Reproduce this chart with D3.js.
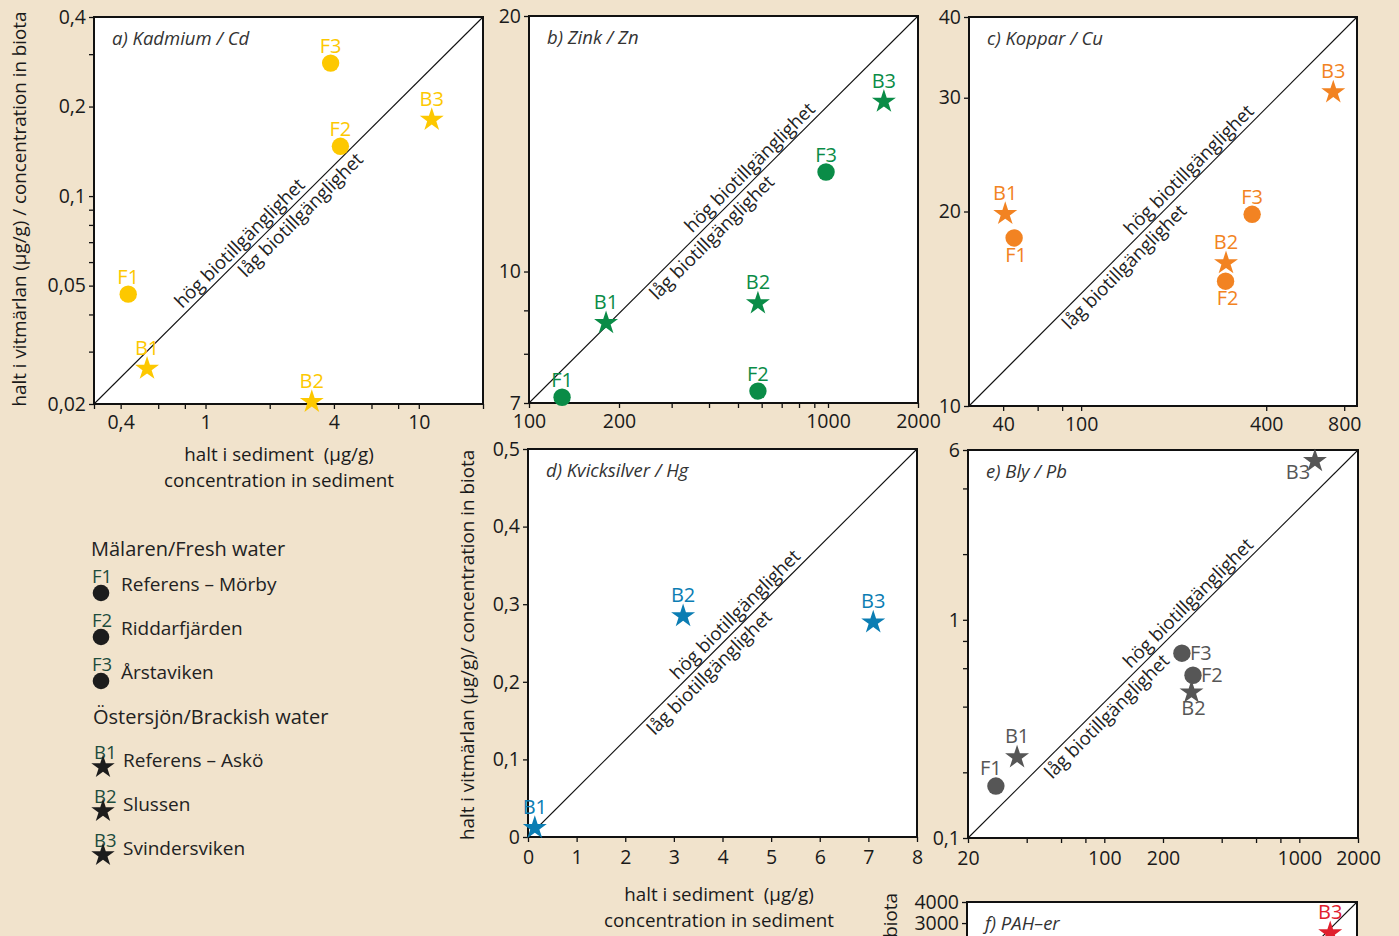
<!DOCTYPE html>
<html><head><meta charset="utf-8">
<script src="https://cdn.jsdelivr.net/npm/d3@7"></script>
<style>
html,body{margin:0;padding:0;background:#f1e3cc;}
svg{display:block;font-family:"Open Sans",sans-serif;}
</style></head><body>
<svg id="chart" width="1399" height="936"></svg>
<script>
// ---------- data ----------
const sites = ["F1","F2","F3","B1","B2","B3"];
const siteType = ["fresh","fresh","fresh","brackish","brackish","brackish"];
const siteNames = ["Referens – Mörby","Riddarfjärden","Årstaviken","Referens – Askö","Slussen","Svindersviken"];
const groupTitles = ["Mälaren/Fresh water","Östersjön/Brackish water"];

// a) Kadmium / Cd
const cdSediment = [0.434, 4.29, 3.86, 0.532, 3.15, 11.5];
const cdBiota    = [0.0468, 0.147, 0.28, 0.0265, 0.0205, 0.182];
const cdXTicks  = [0.3,0.4,0.6,0.8,1,2,4,6,8,10,20];
const cdXLabels = [0.4,1,4,10];
const cdYTicks  = [0.02,0.03,0.04,0.05,0.06,0.07,0.08,0.09,0.1,0.2,0.3,0.4];
const cdYLabels = [0.02,0.05,0.1,0.2,0.4];

// b) Zink / Zn
const znSediment = [129, 583, 985, 181, 583, 1538];
const znBiota    = [7.11, 7.23, 13.1, 8.72, 9.2, 15.9];
const znXTicks  = [100,200,300,400,500,600,700,800,900,1000,2000];
const znXLabels = [100,200,1000,2000];
const znYTicks  = [7,8,9,10,20];
const znYLabels = [7,10,20];

// c) Koppar / Cu
const cuSediment = [45.5, 295, 360, 41, 296, 726];
const cuBiota    = [18.2, 15.6, 19.8, 19.9, 16.7, 30.7];
const cuXKnots  = [27, 40, 100, 400, 800, 900];   // the printed axis is unevenly stretched
const cuXTicks  = [40,60,80,100,400,800];
const cuXLabels = [40,100,400,800];
const cuYTicks  = [10,20,30,40];
const cuYLabels = [10,20,30,40];

// d) Kvicksilver / Hg
const hgSediment = [null, null, null, 0.14, 3.19, 7.1];
const hgBiota    = [null, null, null, 0.013, 0.286, 0.278];
const hgXTicks  = [0,1,2,3,4,5,6,7,8];
const hgYTicks  = [0,0.1,0.2,0.3,0.4,0.5];

// e) Bly / Pb
const pbSediment = [27.8, 285, 250, 35.7, 280, 1203];
const pbBiota    = [0.173, 0.557, 0.703, 0.237, 0.47, 5.4];
const pbXTicks  = [20,40,60,80,100,200,400,600,800,1000,2000];
const pbXLabels = [20,100,200,1000,2000];
const pbYTicks  = [0.1,0.2,0.4,0.6,0.8,1,2,4,6];
const pbYLabels = [0.1,1,6];

// f) PAH-er (only the top of the panel is visible)
const pahSediment = [null, null, null, null, null, 2780];
const pahBiota    = [null, null, null, null, null, 2650];
const pahYTicks  = [3000,4000];
const pahYLabels = [3000,4000];

const yTitle1 = "halt i vitmärlan (µg/g) / concentration in biota";
const yTitle2 = "halt i vitmärlan (µg/g)/ concentration in biota";
const xTitle1 = "halt i sediment  (µg/g)";
const xTitle2 = "concentration in sediment";
const hogText = "hög biotillgänglighet";
const lagText = "låg biotillgänglighet";

// ---------- drawing ----------
const svg = d3.select("#chart");
const fmt = d3.formatLocale({decimal: ",", thousands: "", grouping: [3], currency: ["", ""]}).format("~g");
const FONT = 19.5;
const TFONT = 18.8;

function piecewise(box, fr){ return fr.map(f => box.x0 + f*(box.x1-box.x0)); }

const boxA = {x0:94, x1:483, y0:17, y1:404};
const boxB = {x0:529, x1:918, y0:16, y1:403};
const boxC = {x0:969, x1:1357, y0:17, y1:406};
const boxD = {x0:528, x1:917, y0:449, y1:837};
const boxE = {x0:968, x1:1358, y0:450, y1:838};
const boxF = {x0:967, x1:1357, y0:902, y1:1290};

const panels = [
  {box:boxA, title:"a) Kadmium / Cd", color:"#fdc800", pad:6,
   x:d3.scaleLog().domain([0.3,20]).range([boxA.x0,boxA.x1]),
   y:d3.scaleLog().domain([0.02,0.4]).range([boxA.y1,boxA.y0]),
   xT:cdXTicks, xL:cdXLabels, yT:cdYTicks, yL:cdYLabels, sed:cdSediment, bio:cdBiota,
   place:["above","above","above","above","above","above"], hog:0.395, lag:0.51},
  {box:boxB, title:"b) Zink / Zn", color:"#0a8c47", pad:6,
   x:d3.scaleLog().domain([100,2000]).range([boxB.x0,boxB.x1]),
   y:d3.scaleLog().domain([7,20]).range([boxB.y1,boxB.y0]),
   xT:znXTicks, xL:znXLabels, yT:znYTicks, yL:znYLabels, sed:znSediment, bio:znBiota,
   place:["above","above","above","above","above","above"], hog:0.588, lag:0.449},
  {box:boxC, title:"c) Koppar / Cu", color:"#f28322", pad:6,
   x:d3.scaleLog().domain(cuXKnots).range(piecewise(boxC,[0,0.088,0.289,0.766,0.967,1])),
   y:d3.scaleLog().domain([10,40]).range([boxC.y1,boxC.y0]),
   xT:cuXTicks, xL:cuXLabels, yT:cuYTicks, yL:cuYLabels, sed:cuSediment, bio:cuBiota,
   place:["below","below","above","above","above","above"], hog:0.587, lag:0.379},
  {box:boxD, title:"d) Kvicksilver / Hg", color:"#0b7db3", pad:8,
   x:d3.scaleLinear().domain([0,8]).range([boxD.x0,boxD.x1]),
   y:d3.scaleLinear().domain([0,0.5]).range([boxD.y1,boxD.y0]),
   xT:hgXTicks, xL:hgXTicks, yT:hgYTicks, yL:hgYTicks, sed:hgSediment, bio:hgBiota,
   place:["above","above","above","above","above","above"], hog:0.553, lag:0.445},
  {box:boxE, title:"e) Bly / Pb", color:"#565656", pad:8,
   x:d3.scaleLog().domain([20,2000]).range([boxE.x0,boxE.x1]),
   y:d3.scaleLog().domain([0.1,6]).range([boxE.y1,boxE.y0]),
   xT:pbXTicks, xL:pbXLabels, yT:pbYTicks, yL:pbYLabels, sed:pbSediment, bio:pbBiota,
   place:["aboveleft","right","right","above","below","leftbelow"], hog:0.585, lag:0.335},
  {box:boxF, title:"f) PAH–er", color:"#e0202e", pad:6,
   x:d3.scaleLog().domain([20,4000]).range([boxF.x0,boxF.x1]),
   y:d3.scaleLog().domain([20,4000]).range([boxF.y1,boxF.y0]),
   xT:[], xL:[], yT:pahYTicks, yL:pahYLabels, sed:pahSediment, bio:pahBiota,
   place:["above","above","above","above","above","above"], hog:null, lag:null}
];

const starSym = d3.symbol().type(d3.symbolStar).size(178);
const R = 8.7;

function styleAxis(g){
  g.select(".domain").remove();
  g.selectAll("line").attr("stroke","#111").attr("stroke-width",1.3);
  g.selectAll("text").attr("font-size",FONT).attr("fill","#1a1a1a").attr("font-family","Open Sans, sans-serif");
  g.attr("font-size",null).attr("font-family",null);
}

panels.forEach(p => {
  const b = p.box;
  const g = svg.append("g");
  g.append("rect").attr("x",b.x0).attr("y",b.y0).attr("width",b.x1-b.x0).attr("height",b.y1-b.y0).attr("fill","#fff");

  if (p.xT.length){
    const ax = d3.axisBottom(p.x).tickValues(p.xT)
      .tickFormat(v => p.xL.includes(v) ? fmt(v) : "").tickSize(5).tickSizeOuter(0).tickPadding(p.pad);
    g.append("g").attr("transform",`translate(0,${b.y1})`).call(ax).call(styleAxis);
  }
  const ay = d3.axisLeft(p.y).tickValues(p.yT)
    .tickFormat(v => p.yL.includes(v) ? fmt(v) : "").tickSize(5).tickSizeOuter(0).tickPadding(3);
  g.append("g").attr("transform",`translate(${b.x0},0)`).call(ay).call(styleAxis);

  // 1:1 diagonal through the domain corners
  const xd = p.x.domain(), yd = p.y.domain();
  const xa = p.x(xd[0]), ya = p.y(yd[0]), xb = p.x(xd[xd.length-1]), yb = p.y(yd[yd.length-1]);
  g.append("line").attr("x1",xa).attr("y1",ya).attr("x2",xb).attr("y2",yb)
    .attr("stroke","#111").attr("stroke-width",1.1);
  const ang = Math.atan2(yb-ya, xb-xa)*180/Math.PI;
  if (p.hog !== null){
    [[p.hog, hogText, -5],[p.lag, lagText, 18]].forEach(([t, txt, off]) => {
      const px = xa + t*(xb-xa), py = ya + t*(yb-ya);
      g.append("text").attr("transform",`translate(${px},${py}) rotate(${ang})`)
        .attr("y",off).attr("text-anchor","middle").attr("font-size",18.5).attr("fill","#222").text(txt);
    });
  }

  g.append("rect").attr("x",b.x0).attr("y",b.y0).attr("width",b.x1-b.x0).attr("height",b.y1-b.y0)
    .attr("fill","none").attr("stroke","#111").attr("stroke-width",2);

  g.append("text").attr("x",b.x0+18).attr("y",b.y0+28).attr("font-style","italic")
    .attr("font-size",18.5).attr("fill","#333").text(p.title);

  sites.forEach((s,i) => {
    if (p.sed[i] == null) return;
    const cx = p.x(p.sed[i]), cy = p.y(p.bio[i]);
    if (siteType[i] === "fresh"){
      g.append("circle").attr("cx",cx).attr("cy",cy).attr("r",R).attr("fill",p.color);
    } else {
      g.append("path").attr("d",starSym()).attr("transform",`translate(${cx},${cy+1})`).attr("fill",p.color);
    }
    const up = siteType[i]==="fresh" ? 10 : 13;
    let lx = cx, ly = cy - up, anchor = "middle";
    switch (p.place[i]){
      case "below": lx = cx + 2; ly = cy + 24; break;
      case "right": lx = cx + 8; ly = cy + 7; anchor = "start"; break;
      case "leftbelow": lx = cx - 17; ly = cy + 19; break;
      case "aboveleft": lx = cx - 5; ly = cy - 11; break;
    }
    g.append("text").attr("x",lx).attr("y",ly).attr("text-anchor",anchor)
      .attr("font-size",20).attr("fill",p.color).text(s);
  });
});

// axis titles
function vText(x, y, txt, anchor){
  svg.append("text").attr("transform",`translate(${x},${y}) rotate(-90)`)
    .attr("text-anchor",anchor).attr("font-size",TFONT).attr("fill","#1a1a1a").text(txt);
}
vText(26, 209, yTitle1, "middle");
vText(474, 645, yTitle2, "middle");
vText(897, 893, yTitle2, "end");

function xTitles(cx, y){
  svg.append("text").attr("x",cx).attr("y",y).attr("text-anchor","middle").attr("font-size",TFONT)
    .attr("fill","#1a1a1a").style("white-space","pre").text(xTitle1);
  svg.append("text").attr("x",cx).attr("y",y+26).attr("text-anchor","middle").attr("font-size",TFONT)
    .attr("fill","#1a1a1a").text(xTitle2);
}
xTitles(279, 461);
xTitles(719, 901);

// legend
const lg = svg.append("g");
const groupY = [556, 724];
const rowY0 = [591, 767];
groupTitles.forEach((t,k) => {
  lg.append("text").attr("x",k===0?91:93).attr("y",groupY[k]).attr("font-size",20).attr("fill","#222").text(t);
});
sites.forEach((s,i) => {
  const k = siteType[i]==="fresh" ? 0 : 1;
  const j = k===0 ? i : i-3;
  const ty = rowY0[k] + j*44;
  const mx = k===0 ? 101 : 103;
  lg.append("text").attr("x",mx-9).attr("y",ty-8).attr("font-size",18.5).attr("fill","#1d4c3c").text(s);
  if (k===0) lg.append("circle").attr("cx",mx).attr("cy",ty+2).attr("r",8.3).attr("fill","#1c1c1c");
  else lg.append("path").attr("d",d3.symbol().type(d3.symbolStar).size(170)()).attr("transform",`translate(${mx},${ty})`).attr("fill","#1c1c1c");
  lg.append("text").attr("x",k===0?121:123).attr("y",ty).attr("font-size",19).attr("fill","#222").text(siteNames[i]);
});
</script>
</body></html>
